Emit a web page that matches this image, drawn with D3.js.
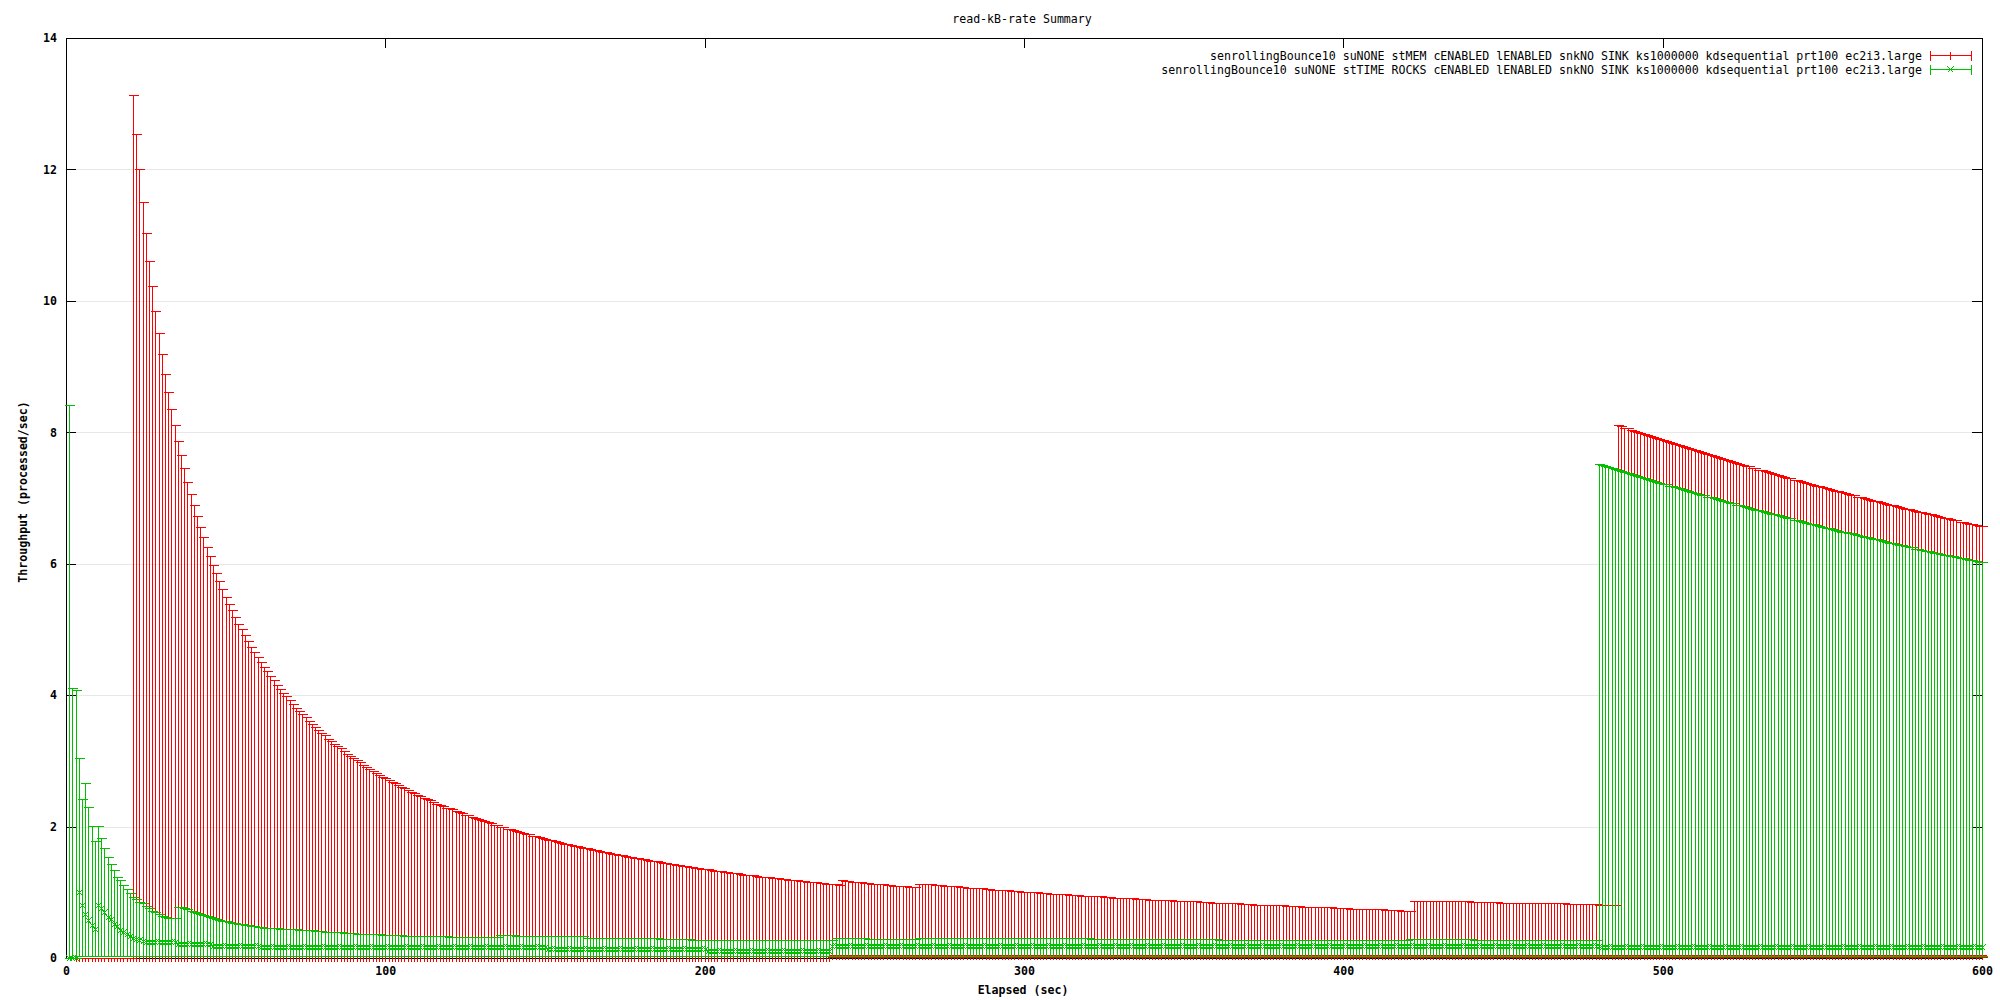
<!DOCTYPE html>
<html>
<head>
<meta charset="utf-8">
<title>read-kB-rate Summary</title>
<script src="https://cdn.jsdelivr.net/npm/d3@7"></script>
<style>
  body { margin: 0; background: #fff; }
  svg { display: block; }
  text { font-family: "DejaVu Sans Mono", monospace; fill: #000; }
</style>
</head>
<body>
<div id="graph"></div>
<script>
// ---- data, one value per second ----
var seriesNames = [
  'senrollingBounce10 suNONE stMEM cENABLED lENABLED snkNO SINK ks1000000 kdsequential prt100 ec2i3.large',
  'senrollingBounce10 suNONE stTIME ROCKS cENABLED lENABLED snkNO SINK ks1000000 kdsequential prt100 ec2i3.large'
];
var seriesColors = ['#ff0000', '#00c000'];
var xTicks = [0, 100, 200, 300, 400, 500, 600];
var yTicks = [0, 2, 4, 6, 8, 10, 12, 14];

// stMEM : upper end of the error bar, t = 3 .. 600
var redStart = 3;
var redHigh = [
  0,0,0,0,0,0,0,0,0,0,0,0,0,0,0,0,0,0,                           // 3-20
  13.14,12.54,12.00,11.50,11.04,10.61,10.22,9.85,9.51,9.19,       // 21-30
  8.89,8.61,8.35,8.11,7.87,7.65,7.45,7.25,7.06,6.89,
  6.72,6.56,6.40,6.26,6.12,5.98,5.86,5.73,5.62,5.50,
  5.39,5.29,5.19,5.09,5.00,4.91,4.82,4.74,4.66,4.58,
  4.50,4.43,4.36,4.29,4.23,4.16,4.10,4.04,3.98,3.92,
  3.87,3.81,3.76,3.71,3.66,3.61,3.56,3.52,3.47,3.43,
  3.39,3.34,3.30,3.26,3.22,3.19,3.15,3.11,3.08,3.04,
  3.01,2.98,2.94,2.91,2.88,2.85,2.82,2.79,2.76,2.74,              // 91-100
  2.71,2.68,2.66,2.63,2.60,2.58,2.56,2.53,2.51,2.48,
  2.46,2.44,2.42,2.40,2.38,2.35,2.33,2.31,2.29,2.28,
  2.26,2.24,2.22,2.20,2.18,2.17,2.15,2.13,2.11,2.10,
  2.08,2.07,2.05,2.03,2.02,2.00,1.99,1.97,1.96,1.95,
  1.93,1.92,1.90,1.89,1.88,1.86,1.85,1.84,1.83,1.81,
  1.80,1.79,1.78,1.77,1.75,1.74,1.73,1.72,1.71,1.70,
  1.69,1.68,1.67,1.66,1.65,1.64,1.63,1.62,1.61,1.60,
  1.59,1.58,1.57,1.56,1.55,1.54,1.53,1.52,1.52,1.51,
  1.50,1.49,1.48,1.47,1.47,1.46,1.45,1.44,1.43,1.43,
  1.42,1.41,1.40,1.40,1.39,1.38,1.37,1.37,1.36,1.35,              // 191-200
  1.35,1.34,1.33,1.33,1.32,1.31,1.31,1.30,1.29,1.29,
  1.28,1.27,1.27,1.26,1.26,1.25,1.24,1.24,1.23,1.23,
  1.22,1.22,1.21,1.20,1.20,1.19,1.19,1.18,1.18,1.17,
  1.17,1.16,1.16,1.15,1.15,1.14,1.14,1.13,1.13,1.12,
  1.12,1.11,1.18,1.17,1.17,1.16,1.16,1.15,1.15,1.14,
  1.14,1.13,1.13,1.13,1.12,1.12,1.11,1.11,1.10,1.10,
  1.10,1.09,1.09,1.08,1.08,1.08,1.13,1.13,1.13,1.12,
  1.12,1.11,1.11,1.11,1.10,1.10,1.09,1.09,1.09,1.08,
  1.08,1.07,1.07,1.07,1.06,1.06,1.06,1.05,1.05,1.04,
  1.04,1.04,1.03,1.03,1.03,1.02,1.02,1.02,1.01,1.01,              // 291-300
  1.01,1.00,1.00,1.00,0.99,0.99,0.99,0.98,0.98,0.98,
  0.97,0.97,0.97,0.96,0.96,0.96,0.96,0.95,0.95,0.95,
  0.94,0.94,0.94,0.94,0.93,0.93,0.93,0.92,0.92,0.92,
  0.92,0.91,0.91,0.91,0.90,0.90,0.90,0.90,0.89,0.89,
  0.89,0.89,0.88,0.88,0.88,0.88,0.87,0.87,0.87,0.87,
  0.86,0.86,0.86,0.86,0.85,0.85,0.85,0.85,0.84,0.84,
  0.84,0.84,0.83,0.83,0.83,0.83,0.83,0.82,0.82,0.82,
  0.82,0.81,0.81,0.81,0.81,0.81,0.80,0.80,0.80,0.80,
  0.80,0.79,0.79,0.79,0.79,0.79,0.78,0.78,0.78,0.78,
  0.77,0.77,0.77,0.77,0.77,0.77,0.76,0.76,0.76,0.76,              // 391-400
  0.76,0.75,0.75,0.75,0.75,0.75,0.74,0.74,0.74,0.74,
  0.74,0.74,0.73,0.73,0.73,0.73,0.73,0.72,0.72,0.72,
  0.72,0.87,0.87,0.87,0.87,0.87,0.87,0.87,0.87,0.87,
  0.86,0.86,0.86,0.86,0.86,0.86,0.86,0.86,0.86,0.85,
  0.85,0.85,0.85,0.85,0.85,0.85,0.85,0.85,0.84,0.84,
  0.84,0.84,0.84,0.84,0.84,0.84,0.84,0.84,0.84,0.83,
  0.83,0.83,0.83,0.83,0.83,0.83,0.83,0.83,0.83,0.82,
  0.82,0.82,0.82,0.82,0.82,0.82,0.82,0.82,0.82,0.81,
  0.81,0.81,0.81,0.81,0.81,8.11,8.09,8.07,8.06,8.04,              // 481-490
  8.02,8.01,7.99,7.98,7.96,7.94,7.93,7.91,7.90,7.88,
  7.86,7.85,7.83,7.82,7.80,7.79,7.77,7.76,7.74,7.73,
  7.71,7.70,7.68,7.67,7.65,7.64,7.62,7.61,7.59,7.58,
  7.56,7.55,7.53,7.52,7.50,7.49,7.48,7.46,7.45,7.43,
  7.42,7.41,7.39,7.38,7.36,7.35,7.34,7.32,7.31,7.30,
  7.28,7.27,7.26,7.24,7.23,7.22,7.20,7.19,7.18,7.16,
  7.15,7.14,7.12,7.11,7.10,7.09,7.07,7.06,7.05,7.04,
  7.02,7.01,7.00,6.99,6.97,6.96,6.95,6.94,6.92,6.91,
  6.90,6.89,6.88,6.86,6.85,6.84,6.83,6.82,6.80,6.79,
  6.78,6.77,6.76,6.75,6.74,6.72,6.71,6.70,6.69,6.68,
  6.67,6.66,6.64,6.63,6.62,6.61,6.60,6.59,6.58,6.57               // 591-600
];
// [from, to, value] levels of the point and of the lower end
var redMid = [[3, 239, -0.02], [240, 600, 0.04]];
var redLow = [[3, 239, -0.05], [240, 600, 0.02]];

// stTIME ROCKS : upper end of the error bar, t = 1 .. 600
var greenStart = 1;
var greenHigh = [
  8.42,4.11,4.08,3.04,2.42,2.67,2.30,2.01,1.78,2.01,              // 1-10
  1.82,1.67,1.53,1.43,1.34,1.24,1.18,1.11,1.05,0.99,
  0.93,0.90,0.85,0.83,0.79,0.76,0.72,0.70,0.67,0.64,
  0.63,0.61,0.61,0.61,0.77,0.77,0.76,0.74,0.72,0.70,
  0.68,0.67,0.65,0.64,0.62,0.61,0.60,0.58,0.57,0.56,
  0.55,0.54,0.53,0.52,0.51,0.50,0.50,0.49,0.48,0.47,
  0.47,0.46,0.46,0.45,0.45,0.45,0.44,0.44,0.44,0.44,
  0.44,0.44,0.43,0.43,0.42,0.42,0.42,0.41,0.41,0.41,
  0.40,0.40,0.40,0.39,0.39,0.39,0.38,0.38,0.38,0.38,
  0.37,0.37,0.37,0.37,0.36,0.36,0.36,0.36,0.35,0.35,              // 91-100
  0.35,0.35,0.35,0.35,0.35,0.34,0.34,0.34,0.34,0.34,
  0.34,0.34,0.33,0.33,0.33,0.33,0.33,0.33,0.33,0.32,
  0.32,0.32,0.32,0.32,0.32,0.32,0.32,0.32,0.32,0.32,
  0.32,0.32,0.32,0.32,0.32,0.35,0.35,0.35,0.35,0.35,
  0.34,0.34,0.34,0.34,0.34,0.34,0.34,0.34,0.34,0.34,
  0.33,0.33,0.33,0.33,0.33,0.33,0.33,0.33,0.33,0.33,
  0.33,0.33,0.31,0.31,0.31,0.31,0.31,0.31,0.31,0.31,
  0.31,0.31,0.30,0.30,0.30,0.30,0.30,0.30,0.30,0.30,
  0.30,0.30,0.30,0.30,0.30,0.29,0.29,0.29,0.29,0.29,
  0.29,0.29,0.29,0.29,0.29,0.28,0.28,0.28,0.28,0.28,              // 191-200
  0.28,0.28,0.28,0.28,0.28,0.28,0.28,0.28,0.28,0.28,
  0.28,0.28,0.28,0.28,0.28,0.28,0.28,0.28,0.28,0.28,
  0.28,0.28,0.28,0.28,0.28,0.28,0.28,0.28,0.28,0.28,
  0.28,0.28,0.28,0.28,0.28,0.28,0.28,0.28,0.28,0.28,
  0.30,0.30,0.30,0.30,0.30,0.30,0.30,0.30,0.30,0.30,
  0.29,0.29,0.29,0.29,0.29,0.29,0.29,0.29,0.29,0.29,
  0.29,0.29,0.29,0.29,0.29,0.29,0.31,0.31,0.31,0.31,
  0.31,0.31,0.31,0.31,0.31,0.31,0.31,0.31,0.31,0.31,
  0.30,0.30,0.30,0.30,0.30,0.30,0.30,0.30,0.30,0.30,
  0.30,0.30,0.30,0.30,0.30,0.30,0.30,0.30,0.30,0.30,              // 291-300
  0.30,0.30,0.30,0.30,0.30,0.30,0.30,0.30,0.30,0.30,
  0.30,0.30,0.30,0.30,0.30,0.30,0.30,0.30,0.30,0.30,
  0.29,0.29,0.29,0.29,0.29,0.29,0.29,0.29,0.29,0.29,
  0.29,0.29,0.29,0.29,0.29,0.29,0.29,0.29,0.29,0.29,
  0.29,0.29,0.29,0.29,0.29,0.29,0.29,0.29,0.29,0.29,
  0.29,0.29,0.29,0.29,0.29,0.29,0.29,0.29,0.29,0.29,
  0.28,0.28,0.28,0.28,0.28,0.28,0.28,0.28,0.28,0.28,
  0.28,0.28,0.28,0.28,0.28,0.28,0.28,0.28,0.28,0.28,
  0.28,0.28,0.28,0.28,0.28,0.28,0.28,0.28,0.28,0.28,
  0.28,0.28,0.28,0.28,0.28,0.28,0.28,0.28,0.28,0.28,              // 391-400
  0.28,0.28,0.28,0.28,0.28,0.28,0.28,0.28,0.28,0.28,
  0.28,0.28,0.28,0.28,0.28,0.28,0.28,0.28,0.28,0.28,
  0.29,0.29,0.29,0.29,0.29,0.29,0.29,0.29,0.29,0.29,
  0.29,0.29,0.29,0.29,0.29,0.29,0.29,0.29,0.29,0.29,
  0.27,0.27,0.27,0.27,0.27,0.27,0.27,0.27,0.27,0.27,
  0.27,0.27,0.27,0.27,0.27,0.27,0.27,0.27,0.27,0.27,
  0.27,0.27,0.27,0.27,0.27,0.27,0.27,0.27,0.27,0.27,
  0.27,0.27,0.27,0.27,0.27,0.27,0.27,0.27,0.27,7.52,              // 471-480
  7.50,7.49,7.47,7.46,7.44,7.43,7.41,7.40,7.38,7.37,
  7.35,7.34,7.32,7.31,7.29,7.28,7.26,7.25,7.23,7.22,
  7.21,7.19,7.18,7.16,7.15,7.13,7.12,7.11,7.09,7.08,
  7.06,7.05,7.04,7.02,7.01,7.00,6.98,6.97,6.96,6.94,
  6.93,6.92,6.90,6.89,6.88,6.86,6.85,6.84,6.82,6.81,
  6.80,6.79,6.77,6.76,6.75,6.74,6.72,6.71,6.70,6.69,
  6.67,6.66,6.65,6.64,6.62,6.61,6.60,6.59,6.58,6.56,
  6.55,6.54,6.53,6.52,6.50,6.49,6.48,6.47,6.46,6.45,
  6.43,6.42,6.41,6.40,6.39,6.38,6.37,6.36,6.34,6.33,
  6.32,6.31,6.30,6.29,6.28,6.27,6.26,6.25,6.23,6.22,
  6.21,6.20,6.19,6.18,6.17,6.16,6.15,6.14,6.13,6.12,
  6.11,6.10,6.09,6.08,6.07,6.06,6.05,6.04,6.03,6.02               // 591-600
];
// [from, to, value] levels of the x point and of the lower end
var greenMid = [
  [1, 3, 0.00], [4, 4, 1.00], [5, 5, 0.81], [6, 6, 0.67], [7, 7, 0.58],
  [8, 8, 0.50], [9, 9, 0.44], [10, 10, 0.81], [11, 11, 0.76], [12, 12, 0.70],
  [13, 13, 0.63], [14, 14, 0.59], [15, 15, 0.52], [16, 16, 0.48], [17, 17, 0.43],
  [18, 18, 0.40], [19, 19, 0.37], [20, 20, 0.34], [21, 21, 0.31], [22, 22, 0.29],
  [23, 23, 0.28], [24, 24, 0.26], [25, 34, 0.24], [35, 45, 0.21], [46, 60, 0.19],
  [61, 100, 0.17], [101, 150, 0.16], [151, 200, 0.13], [201, 239, 0.11],
  [240, 480, 0.19], [481, 600, 0.17]
];
var greenLow = [[1, 3, 0.00], [4, 600, 0.03]];

// ---- chart ----
var W = 2000, H = 1000;
var margin = {top: 38, right: 18, bottom: 42, left: 66};

var x = d3.scaleLinear().domain([0, 600]).range([margin.left, W - margin.right]);
var y = d3.scaleLinear().domain([0, 14]).range([H - margin.bottom, margin.top]);

var svg = d3.select('#graph').append('svg')
    .attr('width', W)
    .attr('height', H);

function level(runs, t) {
  for (var i = 0; i < runs.length; i++) {
    if (t >= runs[i][0] && t <= runs[i][1]) return runs[i][2];
  }
  return 0;
}

function rows(start, high, mid, low) {
  return high.map(function(h, i) {
    var t = start + i;
    return {t: t, high: h, mid: level(mid, t), low: level(low, t)};
  });
}

function px(v) { return Math.round(v) + 0.5; }

// grid
svg.append('g')
    .attr('stroke', '#e8e8e8')
    .attr('shape-rendering', 'crispEdges')
  .selectAll('line')
    .data(yTicks.filter(function(d) { return d > 0 && d < 14; }))
  .enter().append('line')
    .attr('x1', x(0)).attr('x2', x(600))
    .attr('y1', function(d) { return px(y(d)); })
    .attr('y2', function(d) { return px(y(d)); });

// axes, ticks pointing inwards like gnuplot
function styleAxis(g) {
  g.select('.domain').remove();
  g.attr('font-family', '"DejaVu Sans Mono", monospace')
   .attr('font-size', 11.6)
   .attr('font-weight', 'bold');
  g.selectAll('line').attr('shape-rendering', 'crispEdges');
}

svg.append('g')
    .attr('transform', 'translate(0,' + y(0) + ')')
    .call(d3.axisBottom(x).tickValues(xTicks).tickSize(-10).tickPadding(9).tickSizeOuter(0))
    .call(styleAxis);
svg.append('g')
    .attr('transform', 'translate(0,' + y(14) + ')')
    .call(d3.axisTop(x).tickValues(xTicks.slice(1, -1)).tickSize(-10).tickFormat('').tickSizeOuter(0))
    .call(styleAxis);
svg.append('g')
    .attr('transform', 'translate(' + x(0) + ',0)')
    .call(d3.axisLeft(y).tickValues(yTicks).tickSize(-10).tickPadding(9).tickSizeOuter(0))
    .call(styleAxis);
svg.append('g')
    .attr('transform', 'translate(' + x(600) + ',0)')
    .call(d3.axisRight(y).tickValues(yTicks.slice(1, -1)).tickSize(-10).tickFormat('').tickSizeOuter(0))
    .call(styleAxis);

// border
svg.append('rect')
    .attr('x', x(0) + 0.5).attr('y', y(14) + 0.5)
    .attr('width', x(600) - x(0)).attr('height', y(0) - y(14))
    .attr('fill', 'none').attr('stroke', '#000')
    .attr('shape-rendering', 'crispEdges');

// error bars
function markerPath(kind, cx, cy) {
  if (kind === '+') {
    return 'M' + (cx - 4) + ',' + cy + 'H' + (cx + 4) + 'M' + cx + ',' + (cy - 4) + 'V' + (cy + 4);
  }
  return 'M' + (cx - 3) + ',' + (cy - 3) + 'L' + (cx + 3) + ',' + (cy + 3) +
         'M' + (cx - 3) + ',' + (cy + 3) + 'L' + (cx + 3) + ',' + (cy - 3);
}

function drawSeries(data, color, kind) {
  var g = svg.append('g')
      .attr('stroke', color)
      .attr('fill', 'none')
      .attr('stroke-width', 1)
      .attr('shape-rendering', 'crispEdges');

  var bars = '', caps = '', points = '';
  data.forEach(function(d) {
    var cx = px(x(d.t));
    bars += 'M' + cx + ',' + px(y(d.low)) + 'V' + px(y(d.high));
    [d.low, d.high].forEach(function(v) {
      if (v >= 0) caps += 'M' + (cx - 5) + ',' + px(y(v)) + 'H' + (cx + 5);
    });
    if (d.mid >= 0) points += markerPath(kind, cx, px(y(d.mid)));
  });
  g.append('path').attr('d', bars);
  g.append('path').attr('d', caps);
  g.append('path').attr('d', points);
}

drawSeries(rows(redStart, redHigh, redMid, redLow), seriesColors[0], '+');
drawSeries(rows(greenStart, greenHigh, greenMid, greenLow), seriesColors[1], 'x');

// legend
var legend = svg.selectAll('.legend')
    .data(seriesNames)
  .enter().append('g')
    .attr('class', 'legend')
    .attr('transform', function(d, i) { return 'translate(0,' + (55.5 + 14 * i) + ')'; });

legend.append('text')
    .attr('x', 1922)
    .attr('dy', '0.35em')
    .attr('text-anchor', 'end')
    .attr('font-size', 11.6)
    .text(function(d) { return d; });

legend.append('path')
    .attr('stroke', function(d, i) { return seriesColors[i]; })
    .attr('fill', 'none')
    .attr('shape-rendering', 'crispEdges')
    .attr('d', function(d, i) {
      return 'M1930.5,0H1971.5M1930.5,-5V5M1971.5,-5V5' + markerPath(i === 0 ? '+' : 'x', 1950.5, 0);
    });

// titles
svg.append('text')
    .attr('x', 1022).attr('y', 19).attr('dy', '0.35em')
    .attr('text-anchor', 'middle')
    .attr('font-size', 11.6)
    .text('read-kB-rate Summary');

svg.append('text')
    .attr('x', 1023).attr('y', 990).attr('dy', '0.35em')
    .attr('text-anchor', 'middle')
    .attr('font-size', 11.6)
    .attr('font-weight', 'bold')
    .text('Elapsed (sec)');

svg.append('text')
    .attr('transform', 'translate(23,492) rotate(-90)')
    .attr('dy', '0.35em')
    .attr('text-anchor', 'middle')
    .attr('font-size', 11.6)
    .attr('font-weight', 'bold')
    .text('Throughput (processed/sec)');
</script>
</body>
</html>
